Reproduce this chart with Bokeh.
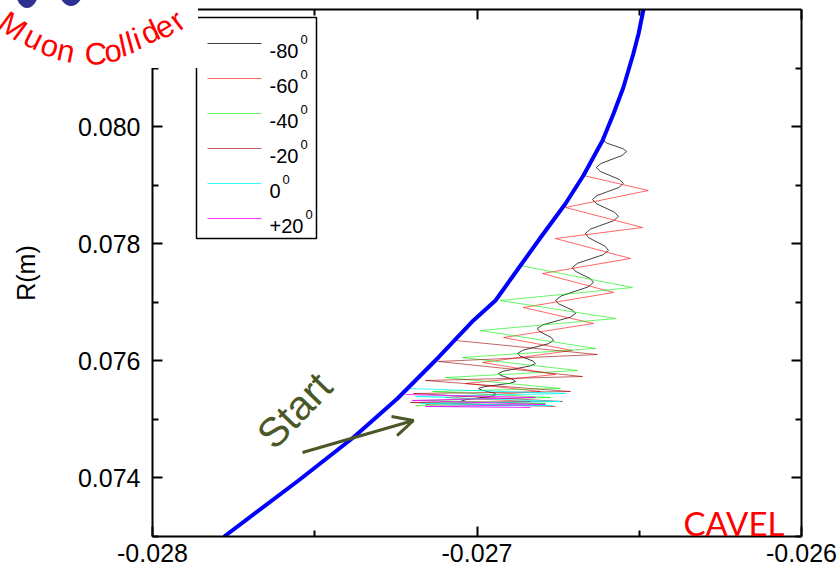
import math

from bokeh.plotting import figure
from bokeh.layouts import column
from bokeh.models import (Range1d, LinearAxis, FixedTicker, NumeralTickFormatter,
                          Label, Arrow, OpenHead, Div)
from bokeh.core.properties import value
from bokeh.embed import file_html
from bokeh.resources import INLINE

# ---------------------------------------------------------------- data
x_ticks = [-0.028, -0.027, -0.026]
x_minor = [-0.0275, -0.0265]
y_ticks = [0.074, 0.076, 0.078, 0.080]
y_minor = [0.073, 0.075, 0.077, 0.079, 0.081]

# cavity wall (CAVEL boundary)
wall_x = [-0.027797, -0.027775, -0.02755, -0.027381, -0.027245, -0.027119,
          -0.027011, -0.026943, -0.026866, -0.026804, -0.026727, -0.026672,
          -0.026613, -0.026579, -0.026549, -0.026518, -0.026502, -0.026487,
          -0.026481]
wall_y = [0.072846, 0.073017, 0.073956, 0.074691, 0.075357, 0.076057,
          0.076689, 0.07703, 0.077628, 0.078106, 0.078687, 0.079165,
          0.079763, 0.080224, 0.080668, 0.081249, 0.08159, 0.082,
          0.082154]

# trajectories for each launch phase
traj_m80_x = [-0.027051, -0.027035, -0.026956, -0.02694, -0.026948, -0.026987,
              -0.026995, -0.026978, -0.026898, -0.026881, -0.026889, -0.026926,
              -0.026934, -0.026917, -0.026837, -0.02682, -0.026828, -0.026867,
              -0.026875, -0.026859, -0.02678, -0.026764, -0.026771, -0.026807,
              -0.026814, -0.026797, -0.026713, -0.026696, -0.026705, -0.026749,
              -0.026758, -0.026741, -0.026658, -0.026641, -0.02665, -0.026697,
              -0.026706, -0.02669, -0.026611, -0.026595, -0.026605, -0.026656,
              -0.026666, -0.026651, -0.026579, -0.026564, -0.026576, -0.026632,
              -0.026644, -0.02663, -0.026563, -0.026549, -0.026561, -0.02662,
              -0.026632, -0.026618, -0.026553, -0.026539, -0.02655, -0.026599,
              -0.02661]
traj_m80_y = [0.075306, 0.075336, 0.075395, 0.075425, 0.075451, 0.075502,
              0.075528, 0.075558, 0.075617, 0.075647, 0.075681, 0.07575,
              0.075784, 0.075827, 0.075912, 0.075954, 0.075997, 0.076082,
              0.076125, 0.076181, 0.076292, 0.076347, 0.076398, 0.076501,
              0.076552, 0.076616, 0.076744, 0.076808, 0.076864, 0.076975,
              0.07703, 0.077107, 0.077261, 0.077338, 0.077402, 0.07753,
              0.077594, 0.077667, 0.077812, 0.077884, 0.077957, 0.078102,
              0.078175, 0.078248, 0.078393, 0.078465, 0.078538, 0.078683,
              0.078755, 0.078823, 0.07896, 0.079028, 0.079097, 0.079234,
              0.079302, 0.07937, 0.079507, 0.079575, 0.079622, 0.079716,
              0.079763]

traj_m60_x = [-0.026672, -0.026472, -0.026727, -0.02649, -0.026758, -0.026527,
              -0.026798, -0.026579, -0.026857, -0.026641, -0.026918, -0.026706,
              -0.026983, -0.026758, -0.027035, -0.026804, -0.027097, -0.026835,
              -0.027159]
traj_m60_y = [0.079165, 0.078909, 0.078619, 0.078277, 0.078089, 0.077748,
              0.077491, 0.077167, 0.076911, 0.076638, 0.076398, 0.076177,
              0.075972, 0.075767, 0.075613, 0.075476, 0.075374, 0.075306,
              0.075254]

traj_m40_x = [-0.026866, -0.026521, -0.026928, -0.026573, -0.026989, -0.026635,
              -0.027045, -0.02669, -0.027097, -0.026743, -0.027137, -0.026773,
              -0.027174, -0.026789, -0.02719]
traj_m40_y = [0.077628, 0.077252, 0.07703, 0.076723, 0.076518, 0.076211,
              0.076057, 0.075835, 0.075715, 0.075528, 0.075476, 0.075374,
              0.075323, 0.075271, 0.075237]

traj_m20_x = [-0.027066, -0.026629, -0.027119, -0.026675, -0.027159, -0.026712,
              -0.027196, -0.026737, -0.027205, -0.026758]
traj_m20_y = [0.076347, 0.076108, 0.075989, 0.075732, 0.075664, 0.075476,
              0.075442, 0.075306, 0.075288, 0.07522]

traj_0_x = [-0.027211, -0.026727, -0.02719, -0.026743, -0.027174, -0.026767,
            -0.027143]
traj_0_y = [0.075528, 0.075442, 0.075391, 0.075306, 0.075271, 0.075237,
            0.07522]

traj_p20_x = [-0.02722, -0.02682, -0.027199, -0.026789, -0.027159, -0.026835]
traj_p20_y = [0.075425, 0.075374, 0.075323, 0.075254, 0.07522, 0.075203]

phase_labels = ["-80", "-60", "-40", "-20", "0", "+20"]
phase_colors = ["#000000", "#ff0000", "#00ee00", "#990000", "#00ffff", "#ff00ff"]
phase_alpha = [0.75, 0.6, 0.6, 0.6, 0.8, 0.8]
trajectories = [(traj_m80_x, traj_m80_y), (traj_m60_x, traj_m60_y),
                (traj_m40_x, traj_m40_y), (traj_m20_x, traj_m20_y),
                (traj_0_x, traj_0_y), (traj_p20_x, traj_p20_y)]

# ---------------------------------------------------------------- layout
X0, X1 = -0.028, -0.026
Y0, Y1 = 0.073, 0.082
PAGE_W, PAGE_H = 840, 572
FRAME_L, FRAME_T, FRAME_W, FRAME_H = 152, 9, 649, 527
FRAME_B = FRAME_T + FRAME_H
FONT = "Liberation Sans"


def px_x(px):
    """Horizontal page pixel -> data x (decorations inside the frame)."""
    return X0 + (px - FRAME_L) / FRAME_W * (X1 - X0)


def px_y(py):
    """Vertical page pixel -> data y (decorations inside the frame)."""
    return Y1 - (py - FRAME_T) / FRAME_H * (Y1 - Y0)


p = figure(frame_width=FRAME_W, frame_height=FRAME_H,
           x_range=Range1d(X0, X1), y_range=Range1d(Y0, Y1),
           output_backend="svg", toolbar_location=None,
           min_border_left=FRAME_L, min_border_top=FRAME_T,
           min_border_right=PAGE_W - FRAME_L - FRAME_W,
           min_border_bottom=PAGE_H - FRAME_B,
           background_fill_color="white", border_fill_color="white")
p.outline_line_color = None
p.grid.visible = False

bottom_axis = p.below[0]
left_axis = p.left[0]
top_axis = LinearAxis()
right_axis = LinearAxis()
p.add_layout(top_axis, "above")
p.add_layout(right_axis, "right")

for ax in [bottom_axis, top_axis]:
    ax.ticker = FixedTicker(ticks=x_ticks, minor_ticks=x_minor)
    ax.formatter = NumeralTickFormatter(format="0.000")
for ax in [left_axis, right_axis]:
    ax.ticker = FixedTicker(ticks=y_ticks, minor_ticks=y_minor)
    ax.formatter = NumeralTickFormatter(format="0.000")

for ax in [bottom_axis, left_axis, top_axis, right_axis]:
    ax.axis_line_width = 2
    ax.axis_line_color = "black"
    ax.major_tick_line_width = 2
    ax.minor_tick_line_width = 2
    ax.major_tick_in = 10
    ax.major_tick_out = 0
    ax.minor_tick_in = 6
    ax.minor_tick_out = 0
    ax.major_label_text_font = FONT
    ax.major_label_text_font_size = "25px"
    ax.major_label_text_color = "black"

# mirrored axes carry ticks only
top_axis.major_label_overrides = {t: "" for t in x_ticks}
right_axis.major_label_overrides = {t: "" for t in y_ticks}
top_axis.major_label_standoff = 0
right_axis.major_label_standoff = 0

bottom_axis.major_label_standoff = 7
left_axis.major_label_standoff = 12
left_axis.axis_label = "R(m)"
left_axis.axis_label_text_font = FONT
left_axis.axis_label_text_font_size = "25px"
left_axis.axis_label_text_font_style = "normal"
left_axis.axis_label_text_color = "black"
left_axis.axis_label_standoff = 35

# ---------------------------------------------------------------- trajectories
for (tx, ty), col, al in zip(trajectories, phase_colors, phase_alpha):
    p.line(tx, ty, line_color=col, line_width=1, line_alpha=al,
           line_join="round")

p.line(wall_x, wall_y, line_color="#0000ff", line_width=4)

# ---------------------------------------------------------------- legend
p.quad(left=[px_x(196)], right=[px_x(316)], top=[px_y(17)], bottom=[px_y(238)],
       fill_color="white", line_color="black", line_width=1.5)
ADV = {"-": 0.333, "+": 0.584}
for i, (lab, col, al) in enumerate(zip(phase_labels, phase_colors, phase_alpha)):
    row = 43 + 35 * i
    p.line([px_x(207), px_x(261)], [px_y(row), px_y(row)],
           line_color=col, line_width=1.2, line_alpha=al)
    p.text(x=[px_x(269)], y=[px_y(row + 7)], text=[lab],
           text_font=value(FONT), text_font_size="20px",
           text_baseline="alphabetic", text_align="left", text_color="black")
    w = sum(ADV.get(c, 0.556) for c in lab) * 20
    p.text(x=[px_x(269 + w + 2)], y=[px_y(row - 4)], text=["0"],
           text_font=value(FONT), text_font_size="13px",
           text_baseline="alphabetic", text_align="left", text_color="black")

# ---------------------------------------------------------------- annotations
p.add_layout(Label(x=px_x(294), y=px_y(410), text="Start",
                   angle=0.8, text_font=FONT, text_font_size="41px",
                   text_color="#4b5727", text_align="center",
                   text_baseline="middle"))
p.add_layout(Arrow(x_start=px_x(302), y_start=px_y(452),
                   x_end=px_x(413), y_end=px_y(420),
                   line_color="#4b5727", line_width=3,
                   end=OpenHead(size=20, line_color="#4b5727", line_width=3)))
p.add_layout(Label(x=px_x(683), y=px_y(522), text="CAVEL",
                   text_font="Lato", text_font_size="33px",
                   text_color="#ff0000", text_align="left",
                   text_baseline="alphabetic"))

# ---------------------------------------------------------------- logo badge
# White badge pulled up over the top-left corner of the page; positions are
# page pixels, letters follow an arc around LOGO_C.
LOGO_W, LOGO_H = 198, 68
LOGO_C = (95, -85)
logo_chars = ["M", "u", "o", "n", "C", "o", "l", "l", "i", "d", "e", "r"]
logo_px = [13, 34, 50, 66, 96, 113, 123, 130, 137, 150, 164, 177]
logo_py = [26, 38, 46, 51, 54, 51, 46, 43, 39, 32, 27, 20]
logo_blobs = [(27, -8, 11, 16), (71, -10, 12, 16)]

parts = [f'<rect x="0" y="0" width="{LOGO_W}" height="{LOGO_H}" fill="#ffffff"/>']
for cx, cy, rx, ry in logo_blobs:
    parts.append(f'<ellipse cx="{cx}" cy="{cy}" rx="{rx}" ry="{ry}" '
                 f'fill="#2e3192"/>')
for ch, lx, ly in zip(logo_chars, logo_px, logo_py):
    tilt = math.degrees(math.atan2(lx - LOGO_C[0], ly - LOGO_C[1]))
    parts.append(
        f'<text x="{lx}" y="{ly}" transform="rotate({-tilt:.1f} {lx} {ly})" '
        f'style="font-family:\'{FONT}\';font-size:31px;fill:#ff0000;" '
        f'text-anchor="middle" dominant-baseline="central">{ch}</text>')
badge_html = (f'<svg xmlns="http://www.w3.org/2000/svg" width="{LOGO_W}" '
              f'height="{LOGO_H}" style="display:block;position:relative;'
              f'z-index:10;">' + "".join(parts) + "</svg>")

badge = Div(text=badge_html, width=LOGO_W, height=LOGO_H,
            margin=(-PAGE_H, 0, 0, 0),
            styles={"position": "relative", "z-index": "10"})

page = column(p, badge, spacing=0)
open("out.html", "w").write(file_html(page, INLINE))
